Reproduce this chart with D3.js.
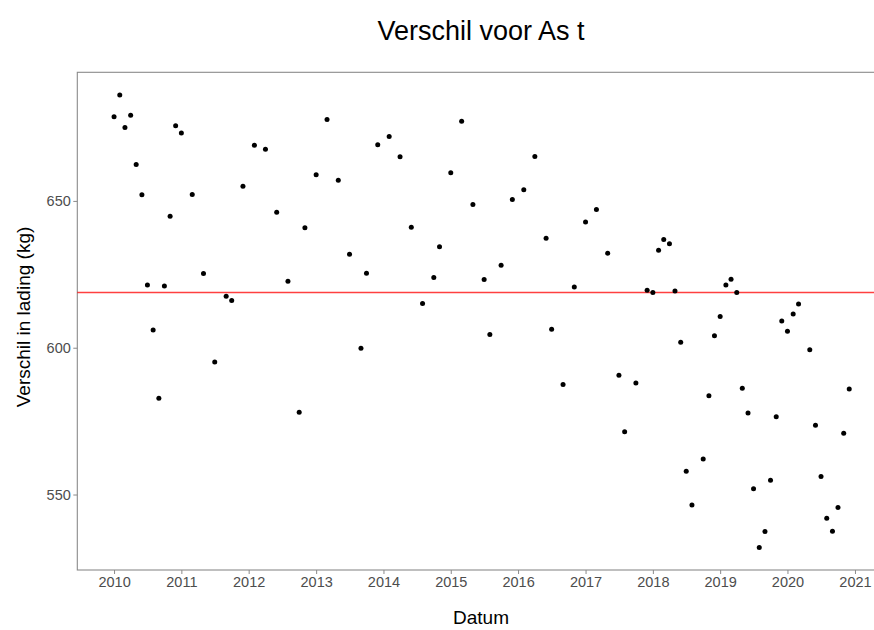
<!DOCTYPE html>
<html>
<head>
<meta charset="utf-8">
<script src="https://cdn.jsdelivr.net/npm/d3@7"></script>
<style>
  html, body { margin: 0; padding: 0; background: #fff; }
  svg { display: block; font-family: "Liberation Sans", Arial, sans-serif; }
</style>
</head>
<body>
<svg id="chart" width="874" height="630"></svg>
<script>
const dates = ["2010-01","2010-02","2010-03","2010-04","2010-05","2010-06","2010-07","2010-08","2010-09","2010-10","2010-11","2010-12",
  "2011-01","2011-03","2011-05","2011-07","2011-09","2011-10","2011-12",
  "2012-02","2012-04","2012-06","2012-08","2012-10","2012-11",
  "2013-01","2013-03","2013-05","2013-07","2013-09","2013-10","2013-12",
  "2014-02","2014-04","2014-06","2014-08","2014-10","2014-11",
  "2015-01","2015-03","2015-05","2015-07","2015-08","2015-10","2015-12",
  "2016-02","2016-04","2016-06","2016-07","2016-09","2016-11",
  "2017-01","2017-03","2017-05","2017-07","2017-08","2017-10","2017-12",
  "2018-01","2018-02","2018-03","2018-04","2018-05","2018-06","2018-07","2018-08","2018-10","2018-11","2018-12",
  "2019-01","2019-02","2019-03","2019-04","2019-05","2019-06","2019-07","2019-08","2019-09","2019-10","2019-11","2019-12",
  "2020-01","2020-02","2020-03","2020-05","2020-06","2020-07","2020-08","2020-09","2020-10","2020-11","2020-12"];
const values = [678.7,686.1,675.0,679.2,662.4,652.1,621.4,606.0,582.8,621.0,644.8,675.6,
  673.1,652.2,625.3,595.1,617.5,616.1,655.0,
  669.0,667.6,646.1,622.6,578.0,640.9,
  658.9,677.7,657.0,631.8,599.8,625.4,669.1,
  671.9,665.0,641.0,615.1,623.9,634.4,
  659.6,677.1,648.8,623.2,604.5,628.1,650.5,
  653.8,665.1,637.3,606.3,587.5,620.7,
  642.8,647.1,632.2,590.6,571.4,588.0,619.6,
  618.8,633.2,636.9,635.4,619.3,601.9,557.9,546.4,562.1,583.6,604.1,
  610.6,621.4,623.3,618.8,586.2,577.8,552.0,532.0,537.4,554.9,576.5,609.1,
  605.6,611.5,614.9,599.3,573.6,556.1,541.9,537.5,545.6,570.9,585.9];
const referenceLine = 618.8;
const yTicks = [550, 600, 650];
const xTickYears = [2010,2011,2012,2013,2014,2015,2016,2017,2018,2019,2020,2021];
const chartTitle = "Verschil voor As t";
const xTitle = "Datum";
const yTitle = "Verschil in lading (kg)";

const parse = d3.timeParse("%Y-%m");
const data = dates.map((d, i) => ({ date: parse(d), value: values[i] }));

const svg = d3.select("#chart");
const pLeft = 77.3, pRight = 886, pTop = 72.3, pBottom = 570;

const xExt = d3.extent(data, d => d.date);
const pad = (xExt[1] - xExt[0]) * 0.05;
const x = d3.scaleTime()
  .domain([new Date(+xExt[0] - pad), new Date(+xExt[1] + pad)])
  .range([pLeft, pRight]);

const yExt = d3.extent(values);
const yPad = (yExt[1] - yExt[0]) * 0.05;
const y = d3.scaleLinear()
  .domain([yExt[0] - yPad, yExt[1] + yPad])
  .range([pBottom, pTop]);

// panel border
svg.append("rect")
  .attr("x", pLeft).attr("y", pTop)
  .attr("width", pRight - pLeft).attr("height", pBottom - pTop)
  .attr("fill", "none").attr("stroke", "#8a8a8a").attr("stroke-width", 1.1);

// axes
const xAxis = d3.axisBottom(x)
  .tickValues(xTickYears.map(yr => new Date(yr, 0, 1)))
  .tickFormat(d3.timeFormat("%Y"))
  .tickSize(4).tickPadding(3);
const gx = svg.append("g").attr("transform", `translate(0,${pBottom})`).call(xAxis);
gx.select(".domain").remove();
gx.selectAll(".tick line").attr("stroke", "#8a8a8a");
gx.selectAll(".tick text").attr("fill", "#4d4d4d").attr("font-size", 14.5)
  .attr("font-family", "'Liberation Sans', Arial, sans-serif");

const yAxis = d3.axisLeft(y).tickValues(yTicks).tickSize(4).tickPadding(2.5);
const gy = svg.append("g").attr("transform", `translate(${pLeft},0)`).call(yAxis);
gy.select(".domain").remove();
gy.selectAll(".tick line").attr("stroke", "#8a8a8a");
gy.selectAll(".tick text").attr("fill", "#4d4d4d").attr("font-size", 14.5)
  .attr("font-family", "'Liberation Sans', Arial, sans-serif");

// reference line
svg.append("line")
  .attr("x1", pLeft).attr("x2", pRight)
  .attr("y1", y(referenceLine)).attr("y2", y(referenceLine))
  .attr("stroke", "#ff0000").attr("stroke-opacity", 0.75).attr("stroke-width", 1.3);

// points
svg.append("g").selectAll("circle").data(data).join("circle")
  .attr("cx", d => x(d.date)).attr("cy", d => y(d.value))
  .attr("r", 2.5).attr("fill", "#000");

// titles
svg.append("text").attr("x", 481).attr("y", 40)
  .attr("text-anchor", "middle").attr("font-size", 27).attr("fill", "#000").text(chartTitle);
svg.append("text").attr("x", 481).attr("y", 624)
  .attr("text-anchor", "middle").attr("font-size", 19).attr("fill", "#000").text(xTitle);
svg.append("text").attr("transform", `translate(30,317) rotate(-90)`)
  .attr("text-anchor", "middle").attr("font-size", 19).attr("fill", "#000").text(yTitle);
</script>
</body>
</html>
